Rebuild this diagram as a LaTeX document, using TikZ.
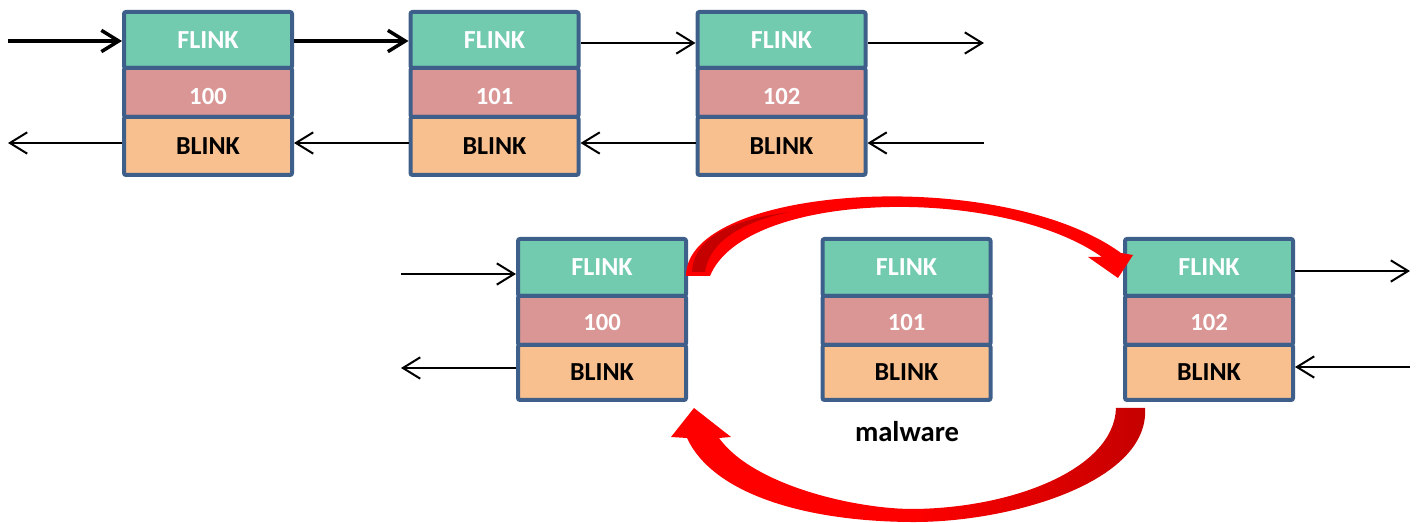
\documentclass[tikz,border=0pt]{standalone}
\usepackage{fontspec}
\setmainfont{Carlito}
\usetikzlibrary{arrows.meta}
\definecolor{cellborder}{HTML}{3E5F8A}
\definecolor{flinkfill}{HTML}{72CBAE}
\definecolor{numfill}{HTML}{D99694}
\definecolor{blinkfill}{HTML}{F9C08F}
\definecolor{linkred}{HTML}{FF0000}
\definecolor{darkred}{HTML}{C40000}
\begin{document}
\begin{tikzpicture}[x=0.75pt,y=-0.75pt,
  cell/.style={draw=cellborder, line width=3pt, rounded corners=1.5pt,
    minimum width=126pt, inner sep=0pt, font=\fontsize{19.5}{20}\selectfont\bfseries},
  flinkcell/.style={cell, fill=flinkfill, text=white},
  numcell/.style={cell, fill=numfill, text=white, minimum height=36.75pt,
    font=\fontsize{18.5}{19}\selectfont\bfseries},
  blinkcell/.style={cell, fill=blinkfill, text=black},
  link/.style={-{Straight Barb[length=13pt,width=16pt]}, line width=1.5pt},
  boldlink/.style={link, line width=2.6pt},
  bigarrow/.style={fill=linkred, draw=none}]
\useasboundingbox (0,0) rectangle (1418,523);

% ---- upper list: 100 <-> 101 <-> 102 ----
\foreach \n/\x/\v in {1/208/100, 2/494.5/101, 3/781.5/102}{
  \node[flinkcell, minimum height=42pt] (f\n) at (\x,40) {FLINK};
  \node[numcell] (v\n) at (\x,92.5) {\smash{\raisebox{-8.8pt}{\v}}};
  \node[blinkcell, minimum height=43.5pt] (b\n) at (\x,146) {BLINK};
}

\coordinate (inF) at (8,41);
\coordinate (outF) at (984,43);
\coordinate (outB) at (8,143);
\coordinate (inB) at (984,143);

\draw[boldlink] (inF) -- (inF -| f1.west);
\draw[boldlink] (f1.east |- inF) -- (f2.west |- inF);
\draw[link] (f2.east |- outF) -- (f3.west |- outF);
\draw[link] (f3.east |- outF) -- (outF);
\draw[link] (b1.west |- outB) -- (outB);
\draw[link] (b2.west |- outB) -- (b1.east |- outB);
\draw[link] (b3.west |- outB) -- (b2.east |- outB);
\draw[link] (inB) -- (b3.east |- inB);

% ---- lower list: 101 unlinked ----
\foreach \n/\x/\v in {4/602/100, 5/906.5/101, 6/1209/102}{
  \node[flinkcell, minimum height=42.75pt] (f\n) at (\x,267.5) {FLINK};
  \node[numcell] (v\n) at (\x,320.5) {\smash{\raisebox{-7.3pt}{\v}}};
  \node[blinkcell, minimum height=41.25pt] (b\n) at (\x,372.5) {BLINK};
}
\node[font=\fontsize{21.5}{22}\selectfont\bfseries, anchor=center] (mal) at (907,432) {malware};

\coordinate (inA) at (401,274);
\coordinate (outA) at (401,368);
\coordinate (outC) at (1410,271);
\coordinate (inC) at (1410,367);
\draw[link] (inA) -- (inA -| f4.west);
\draw[link] (b4.west |- outA) -- (outA);
\draw[link] (f6.east |- outC) -- (outC);
\draw[link] (inC) -- (inC -| b6.east);

% ---- red bypass arrows ----
% FLINK of 100 now points to 102
\fill[bigarrow] (686,276) .. controls (686,185) and (1000,165) .. (1121,253)
  -- (1133,255) -- (1118,278) -- (1088,257) -- (1102,257)
  .. controls (1000,185) and (745,190) .. (710,276) -- cycle;
\fill[darkred] (692,272) .. controls (694,238) and (730,220) .. (790,212)
  .. controls (740,222) and (709,243) .. (705,272) -- cycle;
% BLINK of 102 now points to 100
\shade[left color=linkred, right color=darkred, middle color=linkred]
  (1145,408) .. controls (1150,482) and (1010,523) .. (910,522)
  .. controls (800,521) and (712,492) .. (687,438)
  -- (671,437) -- (694,408) -- (731,437) -- (719,438)
  .. controls (752,484) and (850,508) .. (910,509)
  .. controls (1010,509) and (1114,470) .. (1116,408) -- cycle;
\end{tikzpicture}
\end{document}
